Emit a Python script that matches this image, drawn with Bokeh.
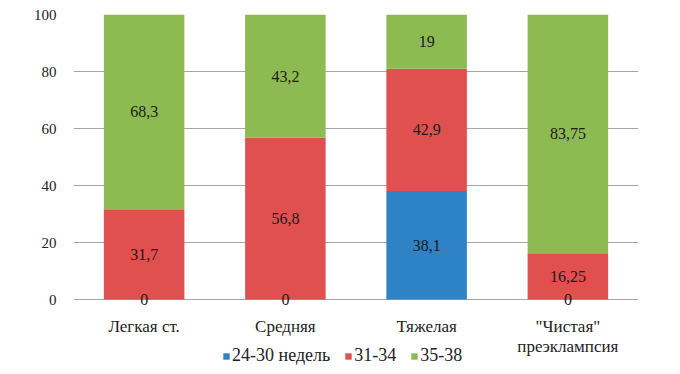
from bokeh.plotting import figure
from bokeh.layouts import column
from bokeh.models import ColumnDataSource, Legend, LegendItem, FactorRange
from bokeh.embed import file_html
from bokeh.resources import INLINE
from bokeh.core.properties import value

categories = ["Легкая ст.", "Средняя", "Тяжелая", "\"Чистая\"\nпреэклампсия"]
series_names = ["24-30 недель", "31-34", "35-38"]
s1 = [0, 0, 38.1, 0]
s2 = [31.7, 56.8, 42.9, 16.25]
s3 = [68.3, 43.2, 19, 83.75]
colors = ["#2D83C6", "#E0504F", "#8DBA51"]
y_ticks = [0, 20, 40, 60, 80, 100]

FONT = "'Liberation Serif'"

p = figure(x_range=FactorRange(*categories, range_padding=0), y_range=(-3.5, 100),
           width=680, height=359, output_backend="svg", toolbar_location=None,
           min_border_left=73, min_border_right=42, min_border_top=14, min_border_bottom=50)
p.outline_line_color = None

series = [s1, s2, s3]
bottoms = [0, 0, 0, 0]
label_x, label_y, label_t = [], [], []
for vals, col in zip(series, colors):
    tops = [b + v for b, v in zip(bottoms, vals)]
    src = ColumnDataSource(dict(x=categories, bottom=bottoms, top=tops))
    p.vbar(x="x", bottom="bottom", top="top", width=0.57, source=src,
           fill_color=col, line_color=None)
    for c, b, v in zip(categories, bottoms, vals):
        label_x.append(c)
        label_y.append(b + v / 2)
        label_t.append(("%g" % v).replace(".", ","))
    bottoms = tops

lsrc = ColumnDataSource(dict(x=label_x, y=label_y, t=label_t))
p.text(x="x", y="y", text="t", source=lsrc, text_align="center", text_baseline="middle",
       text_font=value(FONT), text_font_size="16px", text_color="#1a1a1a")

p.yaxis.ticker = y_ticks
p.yaxis.axis_line_color = None
p.yaxis.major_tick_line_color = None
p.yaxis.minor_tick_line_color = None
p.yaxis.major_label_text_font = FONT
p.yaxis.major_label_text_font_size = "15px"
p.yaxis.major_label_text_color = "#222222"
p.yaxis.major_label_standoff = 11

p.xaxis.axis_line_color = None
p.xaxis.major_tick_line_color = None
p.xaxis.minor_tick_line_color = None
p.xaxis.major_label_text_font = FONT
p.xaxis.major_label_text_font_size = "17px"
p.xaxis.major_label_text_color = "#222222"
p.xaxis.major_label_text_line_height = 1.1
p.xaxis.major_label_standoff = 1

p.xgrid.grid_line_color = None
p.ygrid.ticker = y_ticks
p.ygrid.grid_line_color = "#A6A6A6"
p.ygrid.grid_line_width = 1

# legend strip below the chart (zero-height swatch renderers only feed the legend);
# transparent and pulled up slightly so it sits beside the two-line category label
lg = figure(width=680, height=30, x_range=(0, 1), y_range=(0, 1), output_backend="svg",
            toolbar_location=None, min_border=0)
lg.outline_line_color = None
lg.background_fill_alpha = 0
lg.border_fill_alpha = 0
lg.axis.visible = False
lg.grid.visible = False
lg.margin = (-15, 0, 0, 0)
dummy = []
for col in colors:
    dummy.append(lg.vbar(x=[0], bottom=[0], top=[0], width=0.1, fill_color=col, line_color=None))
legend = Legend(items=[LegendItem(label=n, renderers=[r]) for n, r in zip(series_names, dummy)],
                orientation="horizontal", location=(149, 8),
                label_text_font=FONT, label_text_font_size="18px", label_text_color="#222222",
                label_text_line_height=1.0,
                glyph_width=8, glyph_height=8, label_standoff=2, spacing=14, label_height=16,
                padding=0, margin=0, border_line_color=None, background_fill_alpha=0)
lg.add_layout(legend, "center")

open("out.html", "w").write(file_html(column(p, lg, spacing=0), INLINE))
